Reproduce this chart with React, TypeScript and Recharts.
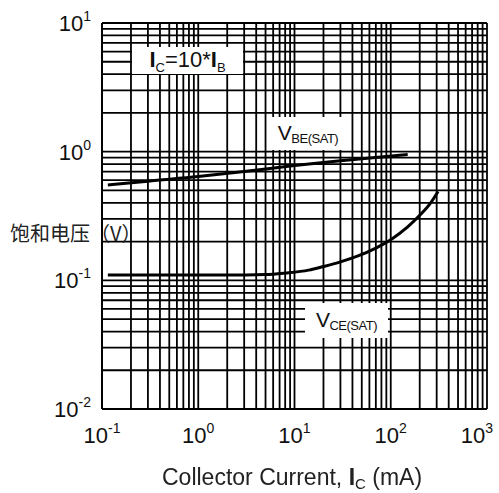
import { CartesianGrid, Line, LineChart, XAxis, YAxis } from 'recharts';

// Saturation voltage vs collector current, log-log.
const X_DECADES = [-1, 0, 1, 2, 3];
const Y_DECADES = [-2, -1, 0, 1];

const VBE_IC = [0.115, 0.3, 1, 3, 10, 30, 150];
const VBE_V = [0.55, 0.59, 0.64, 0.7, 0.78, 0.85, 0.95];

const VCE_IC = [0.115, 0.5, 2, 5, 8, 14, 20, 30, 45, 70, 100, 150, 200, 260, 310];
const VCE_V = [0.11, 0.11, 0.11, 0.111, 0.114, 0.12, 0.128, 0.139, 0.154, 0.178, 0.207, 0.26, 0.32, 0.4, 0.49];

const W = 499;
const H = 493;
const FONT = '"Liberation Sans", Arial, sans-serif';
const INK = '#000';

function logTicks(decades: number[]) {
  const out: number[] = [];
  decades.forEach((d, i) => {
    if (i === decades.length - 1) {
      out.push(Number((10 ** d).toPrecision(3)));
      return;
    }
    for (let m = 1; m <= 9; m++) out.push(Number((m * 10 ** d).toPrecision(3)));
  });
  return out;
}

const X_TICKS = logTicks(X_DECADES);
const Y_TICKS = logTicks(Y_DECADES);

const vbe = VBE_IC.map((x, i) => ({ x, v: VBE_V[i] }));
const vce = VCE_IC.map((x, i) => ({ x, v: VCE_V[i] }));

const exponentOf = (v: number) => {
  const l = Math.log10(v);
  return Math.abs(l - Math.round(l)) < 1e-6 ? Math.round(l) : null;
};

function XTick({ x, y, payload }: any) {
  const e = exponentOf(payload.value);
  if (e === null) return null;
  // last label is pulled inside the frame, like the reference
  const last = e === X_DECADES[X_DECADES.length - 1];
  return (
    <text
      x={last ? x + 6 : x}
      y={y + 26}
      textAnchor={last ? 'end' : 'middle'}
      fontFamily={FONT}
      fontSize={22}
      fill="#111"
    >
      <tspan>10</tspan>
      <tspan dy={-10} fontSize={14}>{e}</tspan>
    </text>
  );
}

function YTick({ x, y, payload }: any) {
  const e = exponentOf(payload.value);
  if (e === null) return null;
  return (
    <text x={x - 3} y={y + 8} textAnchor="end" fontFamily={FONT} fontSize={22} fill="#111">
      <tspan>10</tspan>
      <tspan dy={-10} fontSize={14}>{e}</tspan>
    </text>
  );
}

function Tag({ left, top, width, height, children }: any) {
  return (
    <div
      style={{
        position: 'absolute',
        left,
        top,
        width,
        height,
        background: '#fff',
        fontFamily: FONT,
        color: '#111',
        display: 'flex',
        alignItems: 'center',
        justifyContent: 'center',
        whiteSpace: 'nowrap',
      }}
    >
      {children}
    </div>
  );
}

export default function App() {
  return (
    <div style={{ position: 'fixed', left: 0, top: 0, width: W, height: H, background: '#fff' }}>
      <LineChart width={W} height={H} margin={{ top: 23, right: 12, bottom: 0, left: 0 }}>
        <CartesianGrid stroke={INK} strokeWidth={1.8} horizontal vertical />
        <XAxis
          type="number"
          dataKey="x"
          scale="log"
          domain={[0.1, 1000]}
          ticks={X_TICKS}
          interval={0}
          allowDataOverflow
          height={84}
          tickLine={false}
          axisLine={{ stroke: INK, strokeWidth: 1.8 }}
          tick={<XTick />}
        />
        <YAxis
          type="number"
          dataKey="v"
          scale="log"
          domain={[0.01, 10]}
          ticks={Y_TICKS}
          interval={0}
          allowDataOverflow
          width={102}
          tickLine={false}
          axisLine={{ stroke: INK, strokeWidth: 1.8 }}
          tick={<YTick />}
        />
        <Line data={vbe} dataKey="v" type="monotone" stroke={INK} strokeWidth={3} dot={false} isAnimationActive={false} />
        <Line data={vce} dataKey="v" type="monotone" stroke={INK} strokeWidth={3} dot={false} isAnimationActive={false} />
      </LineChart>

      <Tag left={132} top={47} width={111} height={27}>
        <span style={{ fontSize: 22 }}>
          <b>I</b>
          <sub style={{ fontSize: 13, verticalAlign: -5 }}>C</sub>=10*<b>I</b>
          <sub style={{ fontSize: 13, verticalAlign: -5 }}>B</sub>
        </span>
      </Tag>
      <Tag left={267} top={117} width={82} height={33}>
        <span style={{ fontSize: 21, letterSpacing: -0.5 }}>
          V<sub style={{ fontSize: 13, verticalAlign: -3 }}>BE(SAT)</sub>
        </span>
      </Tag>
      <Tag left={305} top={303} width={83} height={35}>
        <span style={{ fontSize: 21, letterSpacing: -0.5 }}>
          V<sub style={{ fontSize: 13, verticalAlign: -3 }}>CE(SAT)</sub>
        </span>
      </Tag>

      <div
        style={{
          position: 'absolute',
          left: 10,
          top: 221,
          fontFamily: '"Noto Sans CJK SC", sans-serif',
          fontSize: 20,
          color: '#222',
          whiteSpace: 'nowrap',
          lineHeight: '24px',
        }}
      >
        饱和电压（V）
      </div>

      <div
        style={{
          position: 'absolute',
          left: 162,
          top: 464,
          fontFamily: FONT,
          fontSize: 23,
          lineHeight: '27px',
          color: '#222',
          whiteSpace: 'nowrap',
        }}
      >
        Collector Current, <b>I</b>
        <sub style={{ fontSize: 15, verticalAlign: -4 }}>C</sub> (mA)
      </div>
    </div>
  );
}
